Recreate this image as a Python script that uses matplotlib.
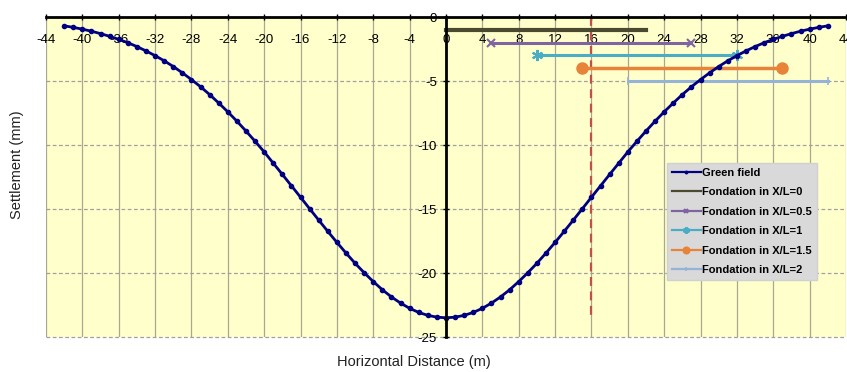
import matplotlib
matplotlib.use("Agg")
import matplotlib.pyplot as plt

plt.rcParams['font.family'] = ['Liberation Sans', 'DejaVu Sans']

# Green field settlement (mm) read at 1 m intervals
gf_x = list(range(-42, 43))
gf_y = [-0.69, -0.81, -0.95, -1.11, -1.30, -1.51, -1.75, -2.01, -2.31, -2.65,
        -3.02, -3.42, -3.87, -4.36, -4.89, -5.45, -6.06, -6.72, -7.41, -8.14,
        -8.91, -9.71, -10.54, -11.42, -12.30, -13.19, -14.08, -14.98, -15.87, -16.75,
        -17.61, -18.44, -19.24, -19.98, -20.67, -21.31, -21.87, -22.35, -22.76, -23.08,
        -23.31, -23.45, -23.50, -23.45, -23.31, -23.08, -22.76, -22.35, -21.87, -21.31,
        -20.67, -19.98, -19.24, -18.44, -17.61, -16.75, -15.87, -14.98, -14.08, -13.19,
        -12.30, -11.42, -10.54, -9.71, -8.91, -8.14, -7.41, -6.72, -6.06, -5.45,
        -4.89, -4.36, -3.87, -3.42, -3.02, -2.65, -2.31, -2.01, -1.75, -1.51,
        -1.30, -1.11, -0.95, -0.81, -0.69]

# Foundations: [start, end] x, and level
f0_x, f0_y = [0, 22], [-1, -1]
f05_x, f05_y = [5, 27], [-2, -2]
f1_x, f1_y = [10, 32], [-3, -3]
f15_x, f15_y = [15, 37], [-4, -4]
f2_x, f2_y = [20, 42], [-5, -5]

ref_x = [16, 16]
ref_y = [0, -23.5]

x_ticks = list(range(-44, 45, 4))
y_ticks = [0, -5, -10, -15, -20, -25]

labels = ["Green field", "Fondation in X/L=0", "Fondation in X/L=0.5",
          "Fondation in X/L=1", "Fondation in X/L=1.5", "Fondation in X/L=2"]

fig = plt.figure(figsize=(8.47, 3.72), dpi=100)
ax = fig.add_axes([46/847, 1-337/372, 800/847, 320/372])
ax.set_facecolor('#FFFFCC')

ax.set_xlim(-44, 44)
ax.set_ylim(-25, 0)

for xv in x_ticks:
    ax.axvline(xv, color='#a8a890', lw=0.9, zorder=1)
for yv in y_ticks[1:]:
    ax.axhline(yv, color='#a0a0a0', lw=0.9, ls=(0, (3, 2)), zorder=1, clip_on=False)

ax.plot(ref_x, ref_y, color='#c0504d', lw=1.6, ls=(0, (4, 2.5)), zorder=3)

l_gf, = ax.plot(gf_x, gf_y, color='#000080', lw=2.0, marker='o', ms=3, zorder=5)
l0, = ax.plot(f0_x, f0_y, color='#4a4a30', lw=3, zorder=4)
l05, = ax.plot(f05_x, f05_y, color='#8064a2', lw=2.2, marker='x', ms=6, mew=1.5, zorder=4)
l1, = ax.plot(f1_x, f1_y, color='#4bacc6', lw=2.2, marker=(6, 2, 0), ms=8, mew=1.5, zorder=4)
l15, = ax.plot(f15_x, f15_y, color='#e8833a', lw=2.5, marker='o', ms=8, zorder=4)
l2, = ax.plot(f2_x, f2_y, color='#95b3d7', lw=2.2, marker='|', ms=6, mew=1.2, zorder=4)

for s in ['top', 'right']:
    ax.spines[s].set_visible(False)
ax.spines['bottom'].set_position(('data', 0))
ax.spines['left'].set_position(('data', 0))
ax.spines['bottom'].set_linewidth(2)
ax.spines['left'].set_linewidth(2)
ax.spines['bottom'].set_zorder(6)
ax.spines['left'].set_zorder(6)

ax.set_xticks(x_ticks)
ax.set_xticklabels([str(v) for v in x_ticks])
ax.set_yticks(y_ticks)
ax.set_yticklabels([str(v) for v in y_ticks])
ax.tick_params(axis='x', direction='inout', length=5, width=1, pad=9.5, labelsize=9.5, colors='black')
ax.tick_params(axis='y', direction='inout', length=5, width=1, pad=4, labelsize=9.5, colors='black')

leg = ax.legend([l_gf, l0, l05, l1, l15, l2], labels, loc='upper left',
                bbox_to_anchor=(0.776, 0.544), borderaxespad=0,
                prop={'size': 8, 'weight': 'bold'}, facecolor='#d9d9d9',
                edgecolor='#d0d0d0', framealpha=1, fancybox=False,
                labelspacing=0.85, handlelength=2.6, handletextpad=0.1,
                borderpad=0.45, markerscale=0.6)
for hl in leg.get_lines():
    hl.set_linewidth(1.6)
leg.set_zorder(10)

fig.text(17/847, 1-165/372, 'Settlement (mm)', rotation=90, ha='center', va='center',
         fontsize=10.5, color='#222222')
fig.text(414/847, 1-362/372, 'Horizontal Distance (m)', ha='center', va='center',
         fontsize=10.5, color='#222222')

fig.savefig('out.png', dpi=100)
